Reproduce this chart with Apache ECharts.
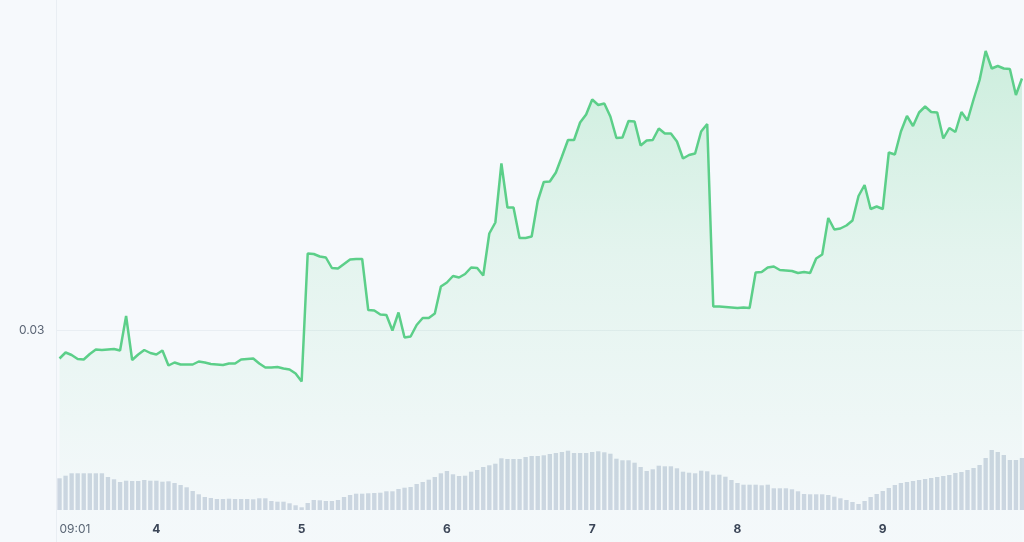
<!DOCTYPE html>
<html><head><meta charset="utf-8">
<script src="https://cdn.jsdelivr.net/npm/echarts@6/dist/echarts.min.js"></script>
<style>html,body{margin:0;padding:0;background:#f6f9fc}#c{width:1024px;height:542px}</style>
</head><body><div id="c"></div>
<script>
const price = [
0.02943,0.02955,0.0295,0.02942,0.02941,0.02952,0.02961,0.0296,0.02961,0.02962,
0.02959,0.03028,0.0294,0.02951,0.0296,0.02954,0.02951,0.02959,0.02929,0.02935,
0.02931,0.02931,0.02931,0.02937,0.02935,0.02932,0.02931,0.0293,0.02933,0.02933,
0.02941,0.02942,0.02943,0.02933,0.02925,0.02925,0.02926,0.02923,0.02921,0.02913,
0.02897,0.03153,0.03152,0.03147,0.03145,0.03124,0.03123,0.03132,0.03141,0.03142,
0.03142,0.0304,0.03039,0.03031,0.0303,0.02999,0.03035,0.02985,0.02987,0.0301,
0.03024,0.03024,0.03033,0.03087,0.03095,0.03108,0.03105,0.03112,0.03125,0.03124,
0.03109,0.03193,0.03215,0.03333,0.03245,0.03245,0.03184,0.03184,0.03187,0.03258,
0.03296,0.03297,0.03315,0.03347,0.0338,0.0338,0.03415,0.03431,0.03461,0.0345,
0.03453,0.03427,0.03384,0.03385,0.03418,0.03417,0.03369,0.03379,0.0338,0.03403,
0.03393,0.03393,0.03377,0.03343,0.0335,0.03353,0.03397,0.03412,0.03047,0.03047,
0.03046,0.03045,0.03044,0.03045,0.03044,0.03115,0.03116,0.03125,0.03127,0.0312,
0.03119,0.03118,0.03114,0.03116,0.03114,0.03143,0.03151,0.03224,0.03201,0.03203,
0.03209,0.03219,0.03268,0.0329,0.03242,0.03247,0.03242,0.03355,0.03351,0.03397,
0.03428,0.03408,0.03435,0.03447,0.03436,0.03435,0.03383,0.03404,0.03396,0.03436,
0.03419,0.03461,0.035,0.03558,0.03523,0.03528,0.03523,0.03522,0.0347,0.03503
];
const volume = [
31.7,34.3,36.7,36.7,36.7,36.7,36.7,36.7,33,30.7,
28,29.3,29,29,30,29.3,29.3,28.3,28.7,27,
25,22.7,19,15.7,13,12,11,11,11.3,11,
11,11,10.7,11.7,11.7,9,8.3,8.3,6.7,4.7,
2.7,7,10,9.7,9,9,10,13,15,16.3,
16.3,16.7,17,17.3,18.7,18.7,21,22.3,23,26,
28,30.3,33,36.7,39,35.7,34,34.3,38.3,40,
43,44.7,46.3,51.7,51,51,51,53,54,54,
54.7,56,57,58,59.3,57,57,57,58,58.7,
57.7,56.3,51.3,49.7,49.7,47.3,43,39,40.7,44.3,
43.7,43.7,41.7,38.3,37.3,36.7,39.3,38.7,35.3,35.3,
33.3,30,27,25.3,25.3,25.3,24.7,25.3,21.7,21.7,
21.7,20.7,18.7,16,15.7,15.7,15.7,15,13.3,11.7,
10,8,6,9,13,16,19,22,25,27,
28,29,30,31,32,33,34,35,37,38,
40,42,45,52,60,58,55,50,50,52
];
const tickIdx = [0,16,40,64,88,112,136];
const tickText = ['09:01','4','5','6','7','8','9'];
const yLabelValues = [0.03];

const categories = price.map((_, i) => String(i));
const chart = echarts.init(document.getElementById('c'), null, {renderer:'canvas'});
chart.setOption({
  backgroundColor:'#f6f9fc',
  animation:false,
  textStyle:{fontFamily:'Inter'},
  grid:[
    {left:56.5,right:-1,top:-20,bottom:-1288,outerBoundsMode:'none',containLabel:false},
    {left:56.5,right:-1,top:450,bottom:32,outerBoundsMode:'none',containLabel:false}
  ],
  xAxis:[
    {type:'category',gridIndex:0,data:categories,show:false,boundaryGap:true},
    {type:'category',gridIndex:1,data:categories,boundaryGap:true,
     axisLine:{show:false},axisTick:{show:false},splitLine:{show:false},
     axisLabel:{
       interval:(i)=>tickIdx.includes(i),
       alignMinLabel:'left',
       margin:13,
       formatter:(v,i)=>{const k=tickIdx.indexOf(i); if(k<0) return ''; return k===0?'{t|'+tickText[k]+'}':'{d|'+tickText[k]+'}';},
       rich:{
         t:{fontFamily:'Inter',fontSize:12,color:'#5a6474',fontWeight:400},
         d:{fontFamily:'Inter',fontSize:12,color:'#3a4356',fontWeight:700}
       }
     }}
  ],
  yAxis:[
    {type:'value',gridIndex:0,min:0,max:0.037,interval:0.03,
     axisLine:{show:true,lineStyle:{color:'#e9eef3',width:1}},
     axisTick:{show:false},
     splitLine:{show:true,lineStyle:{color:'#e9eef3',width:1}},
     axisLabel:{color:'#5a6474',fontSize:12,fontFamily:'Inter',margin:12,
       formatter:(v)=> yLabelValues.some(t=>Math.abs(t-v)<1e-9) ? v.toFixed(2) : ''}},
    {type:'value',gridIndex:1,min:0,max:60,show:false}
  ],
  series:[
    {type:'line',xAxisIndex:0,yAxisIndex:0,data:price,symbol:'none',
     lineStyle:{color:'#5ccf89',width:2.5},
     areaStyle:{color:{type:'linear',x:0,y:50,x2:0,y2:510,global:true,colorStops:[
       {offset:0,color:'rgba(92,208,137,0.38)'},
       {offset:0.45,color:'rgba(92,208,137,0.17)'},
       {offset:1,color:'rgba(92,208,137,0.02)'}]}}},
    {type:'bar',xAxisIndex:1,yAxisIndex:1,data:volume,
     itemStyle:{color:'#cdd6e2'},barCategoryGap:'28%'}
  ]
});
</script>
</body></html>
